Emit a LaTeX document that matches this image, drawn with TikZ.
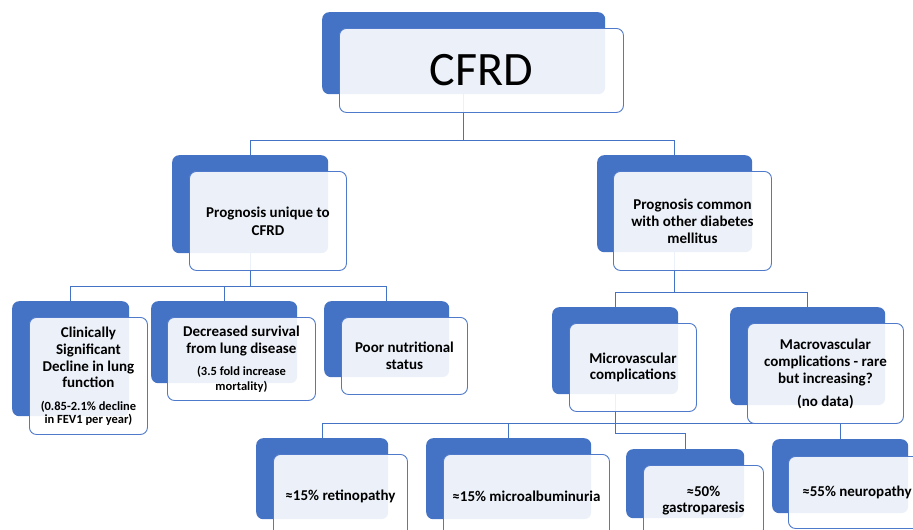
\documentclass[tikz,border=0pt]{standalone}
\usepackage{fontspec}
\setmainfont{Carlito}
\definecolor{accent}{HTML}{4472C4}
\definecolor{edge}{HTML}{4F7ACB}
\begin{document}
\begin{tikzpicture}[x=1pt,y=-1pt,
  backbox/.style={fill=accent, rounded corners=7pt, draw=none, anchor=north west, inner sep=0pt},
  frontbox/.style={fill=white, fill opacity=0.9, text opacity=1, draw=edge, line width=0.9pt,
    rounded corners=7pt, anchor=north west, inner sep=0pt, align=center,
    font=\bfseries\fontsize{15}{17}\selectfont},
  conn/.style={draw=accent, line width=1.3pt},
  smalltext/.style={}
]
\path[use as bounding box] (0,0) rectangle (913,530);
\clip (0,0) rectangle (913,530);

% back boxes
\node[backbox, minimum width=283pt, minimum height=82pt] (bR) at (322,12) {};
\node[backbox, minimum width=156pt, minimum height=98pt] (bU) at (172,155) {};
\node[backbox, minimum width=155pt, minimum height=97pt] (bC) at (597,155) {};
\node[backbox, minimum width=117pt, minimum height=115pt] (bA) at (12,301) {};
\node[backbox, minimum width=146pt, minimum height=82pt] (bB) at (151,301) {};
\node[backbox, minimum width=125pt, minimum height=76pt] (bP) at (324,301) {};
\node[backbox, minimum width=126pt, minimum height=87pt] (bM) at (552,307) {};
\node[backbox, minimum width=155pt, minimum height=98pt] (bV) at (730,307) {};
\node[backbox, minimum width=132pt, minimum height=81pt] (bRet) at (256,438) {};
\node[backbox, minimum width=165pt, minimum height=81pt] (bAlb) at (426,438) {};
\node[backbox, minimum width=118pt, minimum height=69pt] (bGas) at (626,449) {};
\node[backbox, minimum width=136pt, minimum height=74pt] (bNeu) at (772,439) {};

% connectors
\draw[conn] (bR.south) -- ++(0,46) -| (bU.north);
\draw[conn] (bR.south) -- ++(0,46) -| (bC.north);
\draw[conn] (bU.south) -- ++(0,33) -| (bA.north);
\draw[conn] (bU.south) -- ++(0,33) -| (bB.north);
\draw[conn] (bU.south) -- ++(0,33) -| (bP.north);
\draw[conn] (bC.south) -- ++(0,40) -| (bM.north);
\draw[conn] (bC.south) -- ++(0,40) -| (bV.north);
\draw[conn] (bM.south) -- ++(0,29) -| (bRet.north);
\draw[conn] (bM.south) -- ++(0,29) -| (bAlb.north);
\draw[conn] (bM.south) -- ++(0,29) -| (bNeu.north);
\draw[conn] (bM.south) -- ++(0,39) -| (bGas.north);

% front boxes
\node[frontbox, minimum width=284pt, minimum height=84pt, font=\fontsize{48}{58}\selectfont] (fR) at (339,28) {CFRD};
\node[frontbox, minimum width=157pt, minimum height=99pt] (fU) at (189,171) {Prognosis unique to\\[1pt]CFRD};
\node[frontbox, minimum width=158pt, minimum height=99pt] (fC) at (613,171) {Prognosis common\\with other diabetes\\mellitus};
\node[frontbox, minimum width=118pt, minimum height=117pt] (fA) at (29,317) {Clinically\\Significant\\Decline in lung\\[-1pt]function\\[6pt]\fontsize{12.5}{14}\selectfont (0.85-2.1\% decline\\[-4pt]\fontsize{12.5}{14}\selectfont in FEV1 per year)};
\node[frontbox, minimum width=148pt, minimum height=83pt] (fB) at (167,317) {Decreased survival\\from lung disease\\[5pt]\fontsize{12.5}{14}\selectfont (3.5 fold increase\\[-2pt]\fontsize{12.5}{14}\selectfont mortality)};
\node[frontbox, minimum width=126pt, minimum height=77pt] (fP) at (341,317) {Poor nutritional\\status};
\node[frontbox, minimum width=127pt, minimum height=88pt] (fM) at (569,323) {Microvascular\\[-1pt]complications};
\node[frontbox, minimum width=156pt, minimum height=100pt] (fV) at (747,323) {Macrovascular\\complications - rare\\but increasing?\\[6pt](no data)};
\node[frontbox, minimum width=134pt, minimum height=83pt] (fRet) at (273,454) {≈15\% retinopathy};
\node[frontbox, minimum width=166pt, minimum height=83pt] (fAlb) at (443,454) {≈15\% microalbuminuria};
\node[frontbox, minimum width=120pt, minimum height=71pt] (fGas) at (643,465) {≈50\%\\[-1pt]gastroparesis};
\node[frontbox, minimum width=137pt, minimum height=72pt] (fNeu) at (788,456) {≈55\% neuropathy};
\end{tikzpicture}
\end{document}
